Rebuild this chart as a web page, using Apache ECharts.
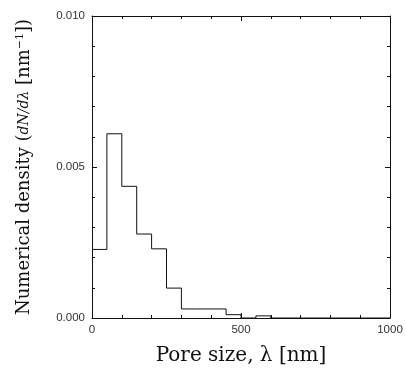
<!DOCTYPE html>
<html><head><meta charset="utf-8">
<script src="https://cdn.jsdelivr.net/npm/echarts@6/dist/echarts.min.js"></script>
<style>html,body{margin:0;padding:0;background:#fff}#c{width:406px;height:374px}</style>
</head><body><div id="c"></div>
<script>
const binStarts = [0, 50, 100, 150, 200, 250, 300, 350, 400, 450, 500, 550, 600, 1000];
const density = [0.00227, 0.0061, 0.00436, 0.00278, 0.00229, 0.00099, 0.0003, 0.0003, 0.0003, 0.00011, 0, 0.00007, 0, 0];
const yTickLabels = ['0.000', '0.005', '0.010'];
const xTickLabels = ['0', '500', '1000'];
const xTitle = 'Pore size, λ [nm]';

const data = binStarts.map((x, i) => [x, density[i]]);
const chart = echarts.init(document.getElementById('c'), null, {renderer: 'canvas'});
const labelFont = {fontFamily: 'Liberation Sans', fontSize: 11.5, color: '#333'};
const axLine = {show: true, onZero: false, lineStyle: {color: '#111', width: 1}};
const tick = {inside: true, length: 5, lineStyle: {color: '#111'}};
const minor = {show: true, splitNumber: 5, length: 3, lineStyle: {color: '#111'}};
chart.setOption({
  animation: false,
  backgroundColor: '#fff',
  grid: {left: 92, right: 16, top: 16, bottom: 56},
  xAxis: [{
    type: 'value', min: 0, max: 1000, interval: 500, position: 'bottom',
    axisLine: axLine, axisTick: tick, minorTick: minor,
    splitLine: {show: false},
    axisLabel: Object.assign({margin: 6, formatter: v => xTickLabels[Math.round(v / 500)]}, labelFont),
    name: xTitle, nameLocation: 'middle', nameGap: 28,
    nameTextStyle: {fontFamily: 'DejaVu Serif', fontSize: 20, color: '#111'}
  }, {
    type: 'value', min: 0, max: 1000, interval: 500, position: 'top',
    axisLine: axLine, axisTick: tick, minorTick: minor,
    splitLine: {show: false}, axisLabel: {show: false}
  }],
  yAxis: [{
    type: 'value', min: 0, max: 0.01, interval: 0.005, position: 'left',
    axisLine: axLine, axisTick: tick, minorTick: minor,
    splitLine: {show: false},
    axisLabel: Object.assign({margin: 7, formatter: v => yTickLabels[Math.round(v / 0.005)]}, labelFont),
    name: '{t|Numerical density (}{f|dN/dλ}{t| [nm}{s|−1}{t|])}',
    nameLocation: 'middle', nameGap: 58,
    nameTextStyle: {
      rich: {
        t: {fontFamily: 'DejaVu Serif', fontSize: 18, color: '#111'},
        f: {fontFamily: 'DejaVu Serif', fontStyle: 'italic', fontSize: 14, color: '#111'},
        s: {fontFamily: 'DejaVu Serif', fontSize: 11, color: '#111', padding: [0, 0, 8, 0]}
      }
    }
  }, {
    type: 'value', min: 0, max: 0.01, interval: 0.005, position: 'right',
    axisLine: axLine, axisTick: tick, minorTick: minor,
    splitLine: {show: false}, axisLabel: {show: false}
  }],
  series: [{
    type: 'line', step: 'end', data: data, showSymbol: false, symbol: 'none',
    lineStyle: {color: '#111', width: 1}
  }]
});
</script></body></html>
